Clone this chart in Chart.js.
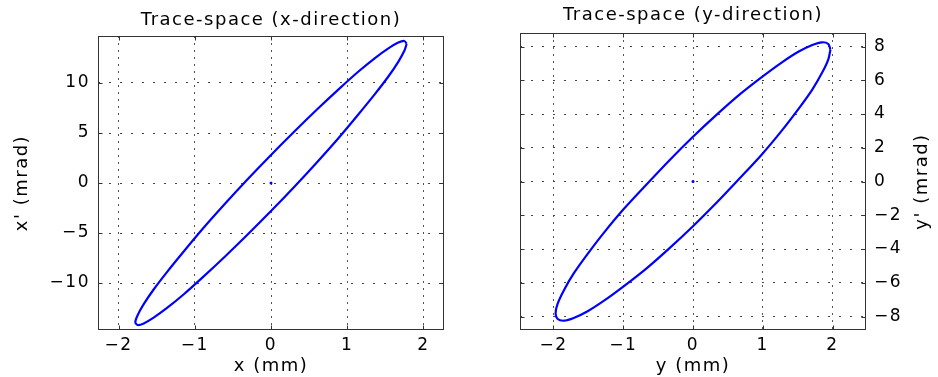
<!DOCTYPE html>
<html>
<head>
<meta charset="utf-8">
<script src="https://cdn.jsdelivr.net/npm/chart.js@4"></script>
<style>
  body { margin: 0; background: #fff; }
  #wrap { display: flex; width: 938px; height: 377px; }
  canvas { display: block; }
</style>
</head>
<body>
<div id="wrap">
  <canvas id="cx" width="470" height="377"></canvas>
  <canvas id="cy" width="468" height="377"></canvas>
</div>
<script>
// x-plane trace-space ellipse (mm / mrad)
const xPos = [1.78, 1.75, 1.67, 1.54, 1.36, 1.14, 0.89, 0.61, 0.31, 0, -0.31, -0.61, -0.89, -1.14, -1.36, -1.54, -1.67, -1.75,
  -1.78, -1.75, -1.67, -1.54, -1.36, -1.14, -0.89, -0.61, -0.31, 0, 0.31, 0.61, 0.89, 1.14, 1.36, 1.54, 1.67, 1.75, 1.78];
const xAngle = [13.92, 13.22, 12.12, 10.65, 8.86, 6.8, 4.53, 2.13, -0.35, -2.81, -5.18, -7.4, -9.39, -11.1, -12.47, -13.46, -14.04, -14.2,
  -13.92, -13.22, -12.12, -10.65, -8.86, -6.8, -4.53, -2.13, 0.35, 2.81, 5.18, 7.4, 9.39, 11.1, 12.47, 13.46, 14.04, 14.2, 13.92];

// y-plane trace-space ellipse
const yPos = [1.97, 1.94, 1.85, 1.71, 1.51, 1.27, 0.99, 0.67, 0.34, 0, -0.34, -0.67, -0.99, -1.27, -1.51, -1.71, -1.85, -1.94,
  -1.97, -1.94, -1.85, -1.71, -1.51, -1.27, -0.99, -0.67, -0.34, 0, 0.34, 0.67, 0.99, 1.27, 1.51, 1.71, 1.85, 1.94, 1.97];
const yAngle = [7.81, 7.24, 6.44, 5.45, 4.29, 3.0, 1.62, 0.19, -1.25, -2.65, -3.96, -5.16, -6.2, -7.05, -7.69, -8.09, -8.25, -8.15,
  -7.81, -7.24, -6.44, -5.45, -4.29, -3.0, -1.62, -0.19, 1.25, 2.65, 3.96, 5.16, 6.2, 7.05, 7.69, 8.09, 8.25, 8.15, 7.81];

// beam centroid
const centre = [0, 0];

const xTicks = [-2, -1, 0, 1, 2];
const xpTicks = [-10, -5, 0, 5, 10];
const yTicks = [-2, -1, 0, 1, 2];
const ypTicks = [-8, -6, -4, -2, 0, 2, 4, 6, 8];

Chart.defaults.font.family = "'DejaVu Sans', sans-serif";
Chart.defaults.color = "#000";

const tickFont = { size: 17 };
const titleFont = { size: 18 };
const minus = (v) => (v < 0 ? "\u2212" + Math.abs(v) : String(v));

// box round the axes, small inward ticks, and the right-hand y label
const frame = {
  id: "frame",
  beforeDraw(chart) {
    chart.ctx.letterSpacing = "1.5px";
  },
  afterDraw(chart, args, opts) {
    const { ctx, chartArea: a, scales } = chart;
    const L = Math.round(a.left) + 0.5, R = Math.round(a.right) - 0.5;
    const T = Math.round(a.top) + 0.5, B = Math.round(a.bottom) - 0.5;
    ctx.save();
    ctx.strokeStyle = "#333";
    ctx.lineWidth = 1;
    ctx.beginPath();
    scales.x.ticks.forEach((t) => {
      const p = Math.round(scales.x.getPixelForValue(t.value)) + 0.5;
      ctx.moveTo(p, B); ctx.lineTo(p, B - 4);
      ctx.moveTo(p, T); ctx.lineTo(p, T + 4);
    });
    scales.y.ticks.forEach((t) => {
      const p = Math.round(scales.y.getPixelForValue(t.value)) + 0.5;
      ctx.moveTo(L, p); ctx.lineTo(L + 4, p);
      ctx.moveTo(R, p); ctx.lineTo(R - 4, p);
    });
    ctx.stroke();
    ctx.strokeRect(L, T, R - L, B - T);
    if (opts.rightLabel) {
      ctx.translate(a.right + 56, (a.top + a.bottom) / 2);
      ctx.rotate(-Math.PI / 2);
      ctx.font = "18px 'DejaVu Sans', sans-serif";
      ctx.letterSpacing = "1.5px";
      ctx.fillStyle = "#000";
      ctx.textAlign = "center";
      ctx.textBaseline = "middle";
      ctx.fillText(opts.rightLabel, 0, 0);
    }
    ctx.restore();
  },
};

function makeChart(id, p) {
  const pts = p.pos.map((v, i) => ({ x: v, y: p.ang[i] }));
  return new Chart(document.getElementById(id), {
    type: "scatter",
    data: {
      datasets: [
        {
          data: pts,
          showLine: true,
          borderColor: "#0000ff",
          borderWidth: 2.2,
          pointRadius: 0,
          tension: 0.3,
          fill: false,
        },
        {
          data: [{ x: centre[0], y: centre[1] }],
          pointRadius: 1.5,
          pointBackgroundColor: "#0000ff",
          pointBorderWidth: 0,
        },
      ],
    },
    options: {
      responsive: false,
      animation: false,
      layout: { padding: p.padding },
      plugins: {
        legend: { display: false },
        tooltip: { enabled: false },
        frame: { rightLabel: p.rightLabel },
      },
      scales: {
        x: {
          type: "linear",
          position: "bottom",
          min: -p.xMax,
          max: p.xMax,
          afterBuildTicks: (s) => { s.ticks = p.xTicks.map((v) => ({ value: v })); },
          afterFit: (s) => { s.height = 47; },
          ticks: { font: tickFont, padding: 5, callback: minus },
          grid: { color: "#555", drawTicks: false },
          border: { display: false, dash: [2, 5] },
          title: { display: true, text: p.xLabel, font: titleFont, padding: { top: 0, bottom: 0 } },
        },
        top: {
          type: "linear",
          position: "top",
          afterFit: (s) => { s.height = p.top; },
          ticks: { display: false },
          grid: { display: false },
          border: { display: false },
          title: { display: true, text: p.title, font: titleFont, padding: { top: p.titlePad, bottom: 0 } },
        },
        y: {
          type: "linear",
          position: p.yPosition,
          min: -p.yMax,
          max: p.yMax,
          afterBuildTicks: (s) => { s.ticks = p.yTicks.map((v) => ({ value: v })); },
          afterFit: (s) => { s.width = p.yWidth; },
          ticks: { font: tickFont, padding: 8, callback: minus },
          grid: { color: "#444", drawTicks: false },
          border: { display: false, dash: [2, 9] },
          title: { display: !!p.yLabel, text: p.yLabel, font: titleFont, padding: { top: 12, bottom: 0 } },
        },
      },
    },
    plugins: [frame],
  });
}

makeChart("cx", {
  pos: xPos, ang: xAngle,
  xMax: 2.27, yMax: 14.7,
  xTicks: xTicks, yTicks: xpTicks,
  title: "Trace-space (x-direction)", titlePad: 10, top: 36,
  xLabel: "x (mm)", yLabel: "x' (mrad)",
  yPosition: "left", yWidth: 98,
  padding: { left: 0, right: 26, top: 0, bottom: 0 },
});

makeChart("cy", {
  pos: yPos, ang: yAngle,
  xMax: 2.48, yMax: 8.8,
  xTicks: yTicks, yTicks: ypTicks,
  title: "Trace-space (y-direction)", titlePad: 5, top: 33,
  xLabel: "y (mm)", yLabel: "", rightLabel: "y' (mrad)",
  yPosition: "right", yWidth: 72,
  padding: { left: 50, right: 0, top: 0, bottom: 0 },
});
</script>
</body>
</html>
